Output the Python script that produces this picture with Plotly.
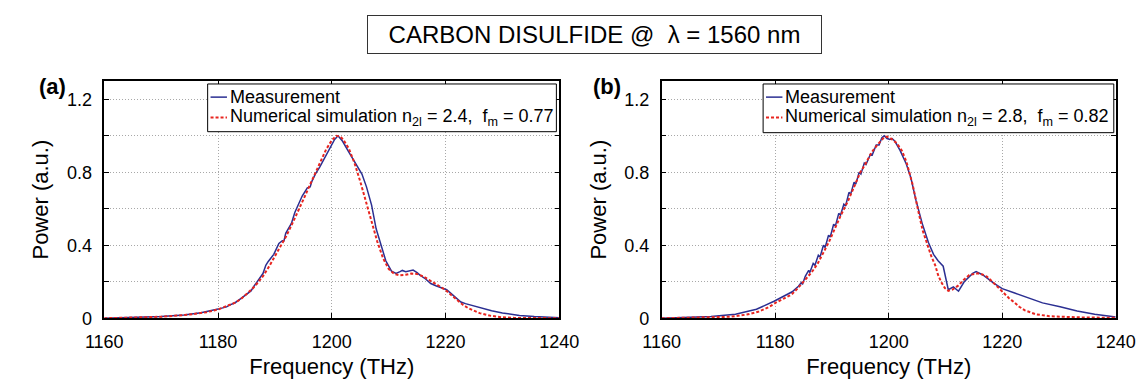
import plotly.graph_objects as go

# ---------------- data ----------------
freq_a_meas = [1160, 1165, 1170, 1174, 1177, 1180, 1181.5, 1182, 1183, 1184, 1185, 1185.8, 1186.2,
               1187, 1187.9, 1188.4, 1188.8, 1189.8, 1190.7, 1191.3, 1191.6, 1191.9, 1192.9, 1193.5,
               1194.0, 1194.8, 1195.7, 1196.2, 1196.5, 1197.1, 1197.9, 1198.5, 1199.6, 1200.5, 1201.1,
               1201.9, 1203.0, 1204.2, 1205.3, 1206.1, 1207.0, 1207.8, 1208.7, 1209.5, 1210.5, 1211.3,
               1212.0, 1212.4, 1213.0, 1213.8, 1214.3, 1215.0, 1215.5, 1216.5, 1217.4, 1218.3, 1219.3,
               1220.2, 1221.0, 1221.8, 1222.7, 1223.5, 1224.9, 1226.5, 1228.1, 1230.0, 1231.2, 1233.0,
               1235.6, 1238.0, 1240]
pow_a_meas = [0.0, 0.004, 0.010, 0.018, 0.030, 0.050, 0.062, 0.072, 0.085, 0.108, 0.130, 0.150, 0.170,
              0.205, 0.245, 0.290, 0.310, 0.350, 0.410, 0.425, 0.425, 0.465, 0.520, 0.580,
              0.615, 0.670, 0.715, 0.720, 0.750, 0.790, 0.830, 0.865, 0.935, 0.980, 1.000,
              0.970, 0.910, 0.850, 0.790, 0.720, 0.620, 0.490, 0.395, 0.315, 0.258, 0.245,
              0.255, 0.262, 0.255, 0.262, 0.264, 0.250, 0.236, 0.215, 0.190, 0.178, 0.165,
              0.156, 0.135, 0.112, 0.089, 0.080, 0.067, 0.053, 0.041, 0.029, 0.023, 0.015,
              0.009, 0.004, 0.002]

freq_a_sim = [1160, 1165, 1170, 1175, 1178, 1180, 1182, 1183, 1184, 1185, 1186, 1187, 1188, 1189,
              1190, 1191, 1192, 1193, 1194, 1195, 1196, 1197, 1198, 1199, 1200, 1200.8, 1201.5, 1202,
              1203, 1204, 1205, 1206, 1207, 1208, 1209, 1210, 1211, 1212, 1213, 1214, 1215, 1216,
              1217, 1218, 1219, 1220, 1221, 1222, 1223, 1224, 1225, 1226, 1228, 1230, 1232, 1240]
pow_a_sim = [0.0, 0.003, 0.008, 0.020, 0.033, 0.048, 0.070, 0.085, 0.105, 0.130, 0.160, 0.195, 0.235, 0.285,
             0.340, 0.395, 0.450, 0.515, 0.580, 0.650, 0.720, 0.790, 0.860, 0.925, 0.975, 1.000, 0.995, 0.980,
             0.930, 0.850, 0.750, 0.640, 0.530, 0.420, 0.330, 0.270, 0.242, 0.235, 0.238, 0.245, 0.243, 0.230,
             0.212, 0.192, 0.173, 0.155, 0.127, 0.100, 0.075, 0.055, 0.040, 0.028, 0.013, 0.005, 0.002, 0.0]

freq_b_meas = [1160, 1165, 1168.7, 1173, 1176.7, 1179.8, 1181.6, 1183.0, 1184.1, 1184.6, 1184.8, 1185.3,
               1185.9, 1186.1, 1186.7, 1187.0, 1187.6, 1187.9, 1188.5, 1188.8, 1189.4, 1189.7, 1190.3,
               1190.6, 1191.2, 1191.5, 1192.1, 1192.4, 1193.0, 1193.3, 1193.9, 1194.2, 1194.8, 1195.1,
               1195.7, 1196.0, 1196.8, 1197.1, 1197.8, 1198.3, 1198.8, 1199.2, 1199.7, 1200.2, 1200.6,
               1201.1, 1202.0, 1203.1, 1203.9, 1204.8, 1205.9, 1207.0, 1207.9, 1208.7, 1209.6, 1210.5,
               1211.4, 1212.3, 1213.3, 1214.8, 1215.4, 1216.6, 1218.5, 1220.0, 1222.2, 1224.6, 1227.1,
               1230.2, 1233.2, 1236.3, 1239.4, 1240]
pow_b_meas = [0.0, 0.004, 0.009, 0.022, 0.049, 0.093, 0.120, 0.145, 0.175, 0.195, 0.185, 0.230,
              0.262, 0.250, 0.300, 0.290, 0.345, 0.335, 0.400, 0.388, 0.455, 0.445, 0.515,
              0.505, 0.575, 0.565, 0.625, 0.615, 0.690, 0.680, 0.745, 0.735, 0.800, 0.790,
              0.850, 0.842, 0.900, 0.895, 0.950, 0.950, 0.990, 1.000, 0.985, 0.980, 0.985,
              0.970, 0.920, 0.845, 0.770, 0.647, 0.520, 0.415, 0.350, 0.315, 0.285, 0.156,
              0.172, 0.148, 0.200, 0.246, 0.256, 0.237, 0.192, 0.162, 0.138, 0.111, 0.084,
              0.063, 0.040, 0.022, 0.009, 0.007]

freq_b_sim = [1160, 1165, 1170, 1172, 1175, 1177, 1179, 1180.1, 1181.5, 1182.9, 1184, 1185.3, 1186.5,
              1187.5, 1188.5, 1189.5, 1190.5, 1191.5, 1192.9, 1194, 1195, 1195.8, 1197, 1198, 1199,
              1199.5, 1200.2, 1201.4, 1202.3, 1203.1, 1204.2, 1205.3, 1206.0, 1206.7, 1207.5, 1208.2,
              1208.7, 1209.3, 1209.9, 1210.5, 1211.3, 1212.3, 1213.2, 1214.2, 1215.0, 1215.7, 1216.5,
              1217.3, 1218.0, 1218.8, 1219.5, 1220.3, 1221.2, 1222.2, 1223.0, 1224.0, 1225.0, 1225.9,
              1228.3, 1233.2, 1240]
pow_b_sim = [0.0, 0.002, 0.005, 0.008, 0.020, 0.035, 0.063, 0.085, 0.108, 0.130, 0.165, 0.210, 0.255,
             0.300, 0.360, 0.420, 0.490, 0.560, 0.647, 0.730, 0.800, 0.840, 0.910, 0.950, 0.985,
             0.995, 0.990, 0.960, 0.920, 0.860, 0.735, 0.575, 0.480, 0.415, 0.340, 0.290,
             0.237, 0.195, 0.165, 0.150, 0.158, 0.180, 0.210, 0.237, 0.244, 0.246, 0.240,
             0.228, 0.208, 0.183, 0.160, 0.138, 0.110, 0.085, 0.063, 0.043, 0.030, 0.022,
             0.011, 0.005, 0.002]

x_ticks = [1160, 1180, 1200, 1220, 1240]
y_ticks = [0, 0.2, 0.4, 0.6, 0.8, 1.0, 1.2]
y_ticktext = ["0", "", "0.4", "", "0.8", "", "1.2"]

name_meas = "Measurement"
name_sim_a = "Numerical simulation n<sub>2l</sub> = 2.4, \u00a0f<sub>m</sub> = 0.77"
name_sim_b = "Numerical simulation n<sub>2l</sub> = 2.8, \u00a0f<sub>m</sub> = 0.82"
title_text = "CARBON DISULFIDE @ \u00a0\u03bb = 1560 nm"

# ---------------- style ----------------
W, H = 1148, 385
BLUE = "#2b2f92"
RED = "#e8251f"
GRID = "#a8a8a8"
FONT = "Liberation Sans, Arial, Helvetica, sans-serif"
RED_DASH = "3px,2px"

def px(x):
    return x / W

def py(y):
    return 1 - y / H

fig = go.Figure()
fig.add_trace(go.Scatter(x=freq_a_meas, y=pow_a_meas, mode="lines", name=name_meas, showlegend=False,
                         line=dict(color=BLUE, width=1.5), xaxis="x", yaxis="y"))
fig.add_trace(go.Scatter(x=freq_a_sim, y=pow_a_sim, mode="lines", name=name_sim_a, showlegend=False,
                         line=dict(color=RED, width=2, dash=RED_DASH), xaxis="x", yaxis="y"))
fig.add_trace(go.Scatter(x=freq_b_meas, y=pow_b_meas, mode="lines", name=name_meas, showlegend=False,
                         line=dict(color=BLUE, width=1.5), xaxis="x2", yaxis="y2"))
fig.add_trace(go.Scatter(x=freq_b_sim, y=pow_b_sim, mode="lines", name=name_sim_b, showlegend=False,
                         line=dict(color=RED, width=2, dash=RED_DASH), xaxis="x2", yaxis="y2"))

y_dom = [py(318.5), py(75)]

def xax(domain, anchor):
    return dict(domain=domain, anchor=anchor, range=[1160, 1240], tickvals=x_ticks,
                ticks="inside", ticklen=5, tickcolor="black", showline=True, linecolor="black",
                linewidth=1.5, mirror="ticks", showgrid=True, gridcolor=GRID, griddash="1px,2px",
                gridwidth=1, zeroline=False, tickfont=dict(size=18, color="black"),
                ticklabelstandoff=6,
                title=dict(text="Frequency (THz)", font=dict(size=22, color="black"), standoff=8))

def yax(anchor):
    return dict(domain=y_dom, anchor=anchor, range=[0, 1.3], tickvals=y_ticks, ticktext=y_ticktext,
                ticks="inside", ticklen=5, tickcolor="black", showline=True, linecolor="black",
                linewidth=1.5, mirror="ticks", showgrid=True, gridcolor=GRID, griddash="1px,2px",
                gridwidth=1, zeroline=False, tickfont=dict(size=18, color="black"),
                ticklabelstandoff=7,
                title=dict(text="Power (a.u.)", font=dict(size=22, color="black"), standoff=12))

# legend boxes (drawn as a key in paper space): left, right, top, bottom in pixels
legend_boxes = [(187, 548, 78, 127, name_sim_a), (762, 1125, 78, 128, name_sim_b)]

shapes = []
annotations = [
    dict(text=title_text, x=px(587.5), y=py(27.5), xref="paper", yref="paper",
         xanchor="center", yanchor="middle", showarrow=False, font=dict(size=24, color="black"),
         bordercolor="#333333", borderwidth=1, borderpad=1, width=451, height=35, bgcolor="white"),
    dict(text="<b>(a)</b>", x=px(26), y=py(81), xref="paper", yref="paper",
         xanchor="center", yanchor="middle", showarrow=False, font=dict(size=22, color="black")),
    dict(text="<b>(b)</b>", x=px(600), y=py(81), xref="paper", yref="paper",
         xanchor="center", yanchor="middle", showarrow=False, font=dict(size=22, color="black")),
]
for (l, r, t, b, sim_name) in legend_boxes:
    shapes.append(dict(type="rect", xref="paper", yref="paper", x0=px(l), x1=px(r), y0=py(b), y1=py(t),
                       line=dict(color="black", width=1), fillcolor="white", layer="above"))
    row1 = t + 13.5
    row2 = t + 34.5
    shapes.append(dict(type="line", xref="paper", yref="paper", x0=px(l + 3), x1=px(l + 20),
                       y0=py(row1), y1=py(row1), line=dict(color=BLUE, width=1.5), layer="above"))
    shapes.append(dict(type="line", xref="paper", yref="paper", x0=px(l + 3), x1=px(l + 20),
                       y0=py(row2), y1=py(row2), line=dict(color=RED, width=2, dash=RED_DASH),
                       layer="above"))
    annotations.append(dict(text=name_meas, x=px(l + 21), y=py(row1), xref="paper", yref="paper",
                            xanchor="left", yanchor="middle", showarrow=False,
                            font=dict(size=18, color="black")))
    annotations.append(dict(text=sim_name, x=px(l + 21), y=py(row2), xref="paper", yref="paper",
                            xanchor="left", yanchor="middle", showarrow=False,
                            font=dict(size=18, color="black")))

fig.update_layout(
    width=W, height=H, margin=dict(l=0, r=0, t=0, b=0),
    paper_bgcolor="white", plot_bgcolor="white",
    font=dict(family=FONT, color="black"),
    xaxis=xax([px(80), px(551)], "y"),
    yaxis=yax("x"),
    xaxis2=xax([px(657), px(1127)], "y2"),
    yaxis2=yax("x2"),
    shapes=shapes,
    annotations=annotations,
)

fig.write_html("out.html")
